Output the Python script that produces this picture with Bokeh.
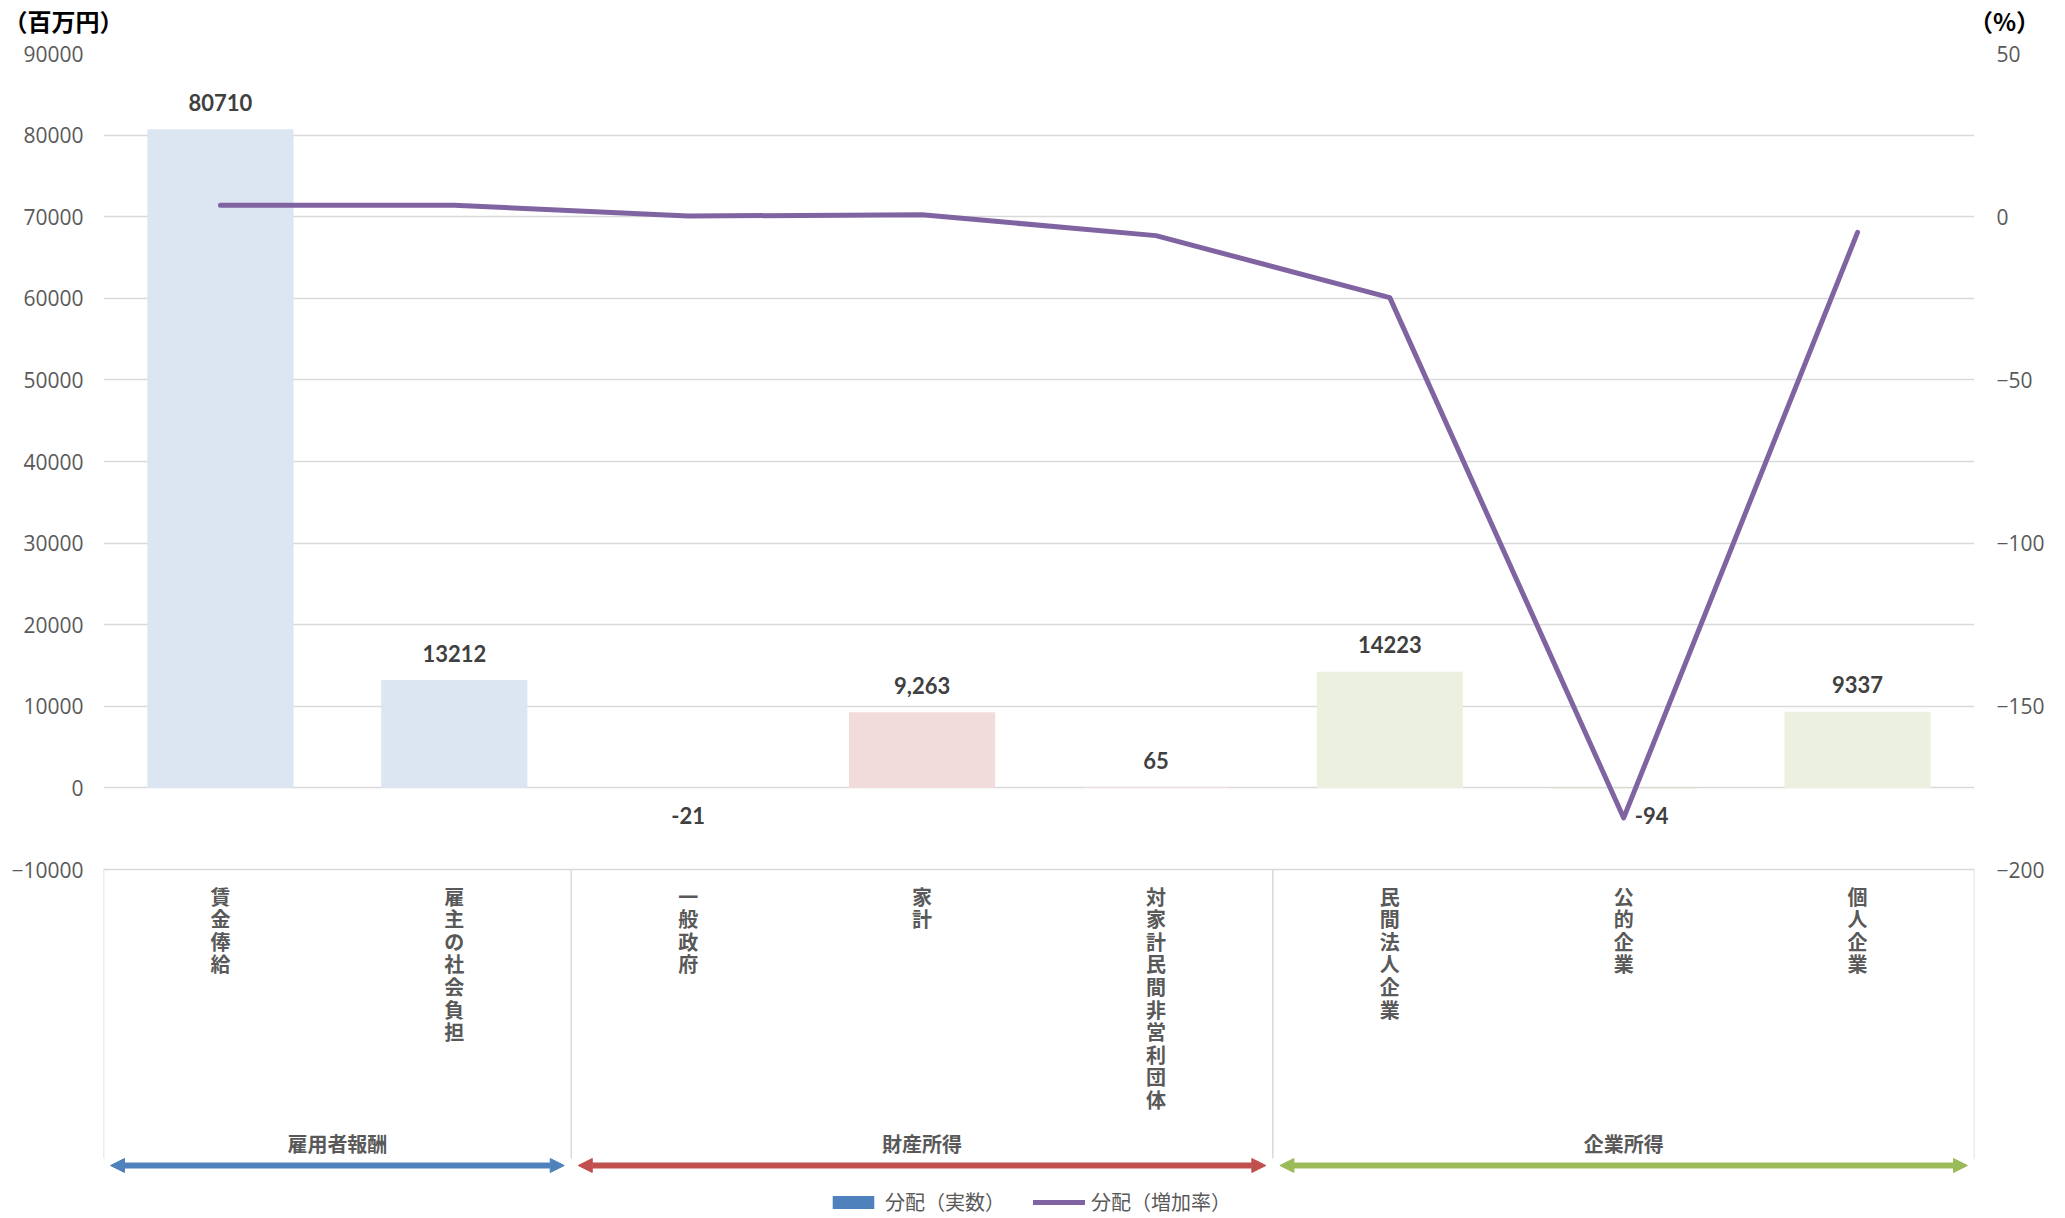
from bokeh.plotting import figure
from bokeh.layouts import column
from bokeh.models import (FactorRange, Range1d, LinearAxis, FixedTicker, ColumnDataSource,
                          Arrow, NormalHead, Legend, LegendItem)
from bokeh.core.properties import value
from bokeh.embed import file_html
from bokeh.resources import INLINE

# ---------------- data ----------------
categories = ["賃金俸給", "雇主の社会負担", "一般政府", "家計", "対家計民間非営利団体",
              "民間法人企業", "公的企業", "個人企業"]
groups = ["雇用者報酬", "財産所得", "企業所得"]
group_sizes = [2, 3, 3]
amounts = [80710, 13212, -21, 9263, 65, 14223, -94, 9337]
amount_labels = ["80710", "13212", "-21", "9,263", "65", "14223", "-94", "9337"]
rates = [3.5, 3.5, 0.2, 0.6, -5.8, -24.8, -184.2, -4.8]
left_ticks = [-10000, 0, 10000, 20000, 30000, 40000, 50000, 60000, 70000, 80000, 90000]
right_ticks = [-200, -150, -100, -50, 0, 50]
series_names = ["分配（実数）", "分配（増加率）"]
unit_labels = ["（百万円）", "（%）"]

# ---------------- layout ----------------
W, H = 2060, 1216
HH = 38                         # header strip holding the unit labels
FRAME_TOP, LEFT = 53, 103       # page pixel of the 90000 grid line / frame left
RIGHT = W - 1974
PX = 816.0 / 100000.0           # pixels per left-axis unit
Y_MAX = 90000
Y_MIN = Y_MAX - (H - FRAME_TOP) / PX
R_MAX = 50
R_MIN = R_MAX - (Y_MAX - Y_MIN) / 400.0


def yat(py):
    """page pixel row -> left-axis data value"""
    return Y_MAX - (py - FRAME_TOP) / PX


group_fill = ["#dce6f2", "#f2dcdb", "#ebf1de"]
group_line = ["#4f81bd", "#c0504d", "#9bbb59"]
TXT = "#595959"
CJK = "Noto Sans CJK JP"

# ---- header with unit labels ----
hdr = figure(width=W, height=HH, x_range=Range1d(0, W), y_range=Range1d(HH, 0),
             output_backend="svg", toolbar_location=None, x_axis_location=None,
             y_axis_location=None, min_border=0, outline_line_color=None)
hdr.frame_align = False
hdr.grid.visible = False
hdr.text(x=[63, 2004], y=[20, 20], text=unit_labels, text_align="center",
         text_baseline="middle", text_font=value(CJK), text_font_style="bold",
         text_font_size="24px", text_color="#000000")

# ---- main chart ----
p = figure(x_range=FactorRange(*categories), y_range=Range1d(Y_MIN, Y_MAX),
           width=W, height=H - HH, output_backend="svg", toolbar_location=None,
           x_axis_location=None, min_border_top=FRAME_TOP - HH, min_border_left=LEFT,
           min_border_right=RIGHT, min_border_bottom=0, outline_line_color=None)
p.frame_align = False
p.x_range.range_padding = 0

# axes
p.extra_y_ranges = {"pct": Range1d(R_MIN, R_MAX)}
raxis = LinearAxis(y_range_name="pct", ticker=FixedTicker(ticks=right_ticks))
p.add_layout(raxis, "right")
p.yaxis[0].ticker = FixedTicker(ticks=left_ticks)
for ax, so in ((p.yaxis[0], 20), (raxis, 22)):
    ax.axis_line_color = None
    ax.major_tick_line_color = None
    ax.minor_tick_line_color = None
    ax.major_tick_out = 0
    ax.major_label_standoff = so
    ax.major_label_text_font = "Open Sans"
    ax.major_label_text_font_size = "21px"
    ax.major_label_text_color = TXT
p.ygrid.ticker = FixedTicker(ticks=left_ticks)
p.ygrid.grid_line_color = "#d9d9d9"
p.ygrid.grid_line_width = 1.5
p.xgrid.visible = False

# bars
bar_colors = []
for g, n in enumerate(group_sizes):
    bar_colors += [group_fill[g]] * n
src = ColumnDataSource(dict(x=categories, top=amounts, color=bar_colors))
p.vbar(x="x", top="top", width=0.625, fill_color="color", line_color=None, source=src)

# zero-width bars only used for the legend swatch
bar_leg = p.vbar(x=categories, top=amounts, width=0, fill_color="#4f81bd", line_color=None)

# line
line_r = p.line(categories, rates, y_range_name="pct", line_color="#8064a2",
                line_width=5, line_join="round", line_cap="round")

# bar value labels
imin = rates.index(min(rates))
lab_y = [v + 27 / PX if v >= 0 else -28 / PX for v in amounts]
lab_dx = [28 if i == imin else 0 for i in range(len(amounts))]
lsrc = ColumnDataSource(dict(x=categories, y=lab_y, t=amount_labels, dx=lab_dx))
p.text(x="x", y="y", text="t", x_offset="dx", source=lsrc, text_align="center",
       text_baseline="middle", text_font=value("Lato"), text_font_style="bold",
       text_font_size="22px", text_color="#404040")

# category labels (vertical stacked)
p.text(x=categories, y=[yat(881)] * len(categories),
       text=["\n".join(c) for c in categories], text_align="center",
       text_baseline="top", text_font=value(CJK), text_font_style="bold",
       text_font_size="20px", text_line_height=0.78, text_color=TXT)

# group boxes, labels, arrows
bounds = [0]
for n in group_sizes:
    bounds.append(bounds[-1] + n)
p.segment(x0=bounds, y0=[-10000] * len(bounds), x1=bounds, y1=[yat(1158)] * len(bounds),
          line_color="#d9d9d9", line_width=1.5)
gx = [(bounds[i] + bounds[i + 1]) / 2 for i in range(len(groups))]
p.text(x=gx, y=[yat(1143)] * len(groups), text=groups, text_align="center",
       text_baseline="middle", text_font=value(CJK), text_font_style="bold",
       text_font_size="20px", text_color=TXT)
for i, c in enumerate(group_line):
    p.add_layout(Arrow(x_start=bounds[i] + 0.03, x_end=bounds[i + 1] - 0.03,
                       y_start=yat(1165), y_end=yat(1165),
                       start=NormalHead(size=14, fill_color=c, line_color=c),
                       end=NormalHead(size=14, fill_color=c, line_color=c),
                       line_color=c, line_width=6))

# legend
legend = Legend(items=[LegendItem(label=series_names[0], renderers=[bar_leg]),
                       LegendItem(label=series_names[1], renderers=[line_r])],
                orientation="horizontal", location=(724, 0),
                label_text_font=CJK, label_text_font_size="20px", label_text_color=TXT,
                glyph_width=52, glyph_height=16, spacing=28, label_standoff=6,
                padding=0, margin=0, border_line_color=None, background_fill_alpha=0)
p.add_layout(legend)

layout = column(hdr, p, spacing=0)
open("out.html", "w").write(file_html(layout, INLINE))
